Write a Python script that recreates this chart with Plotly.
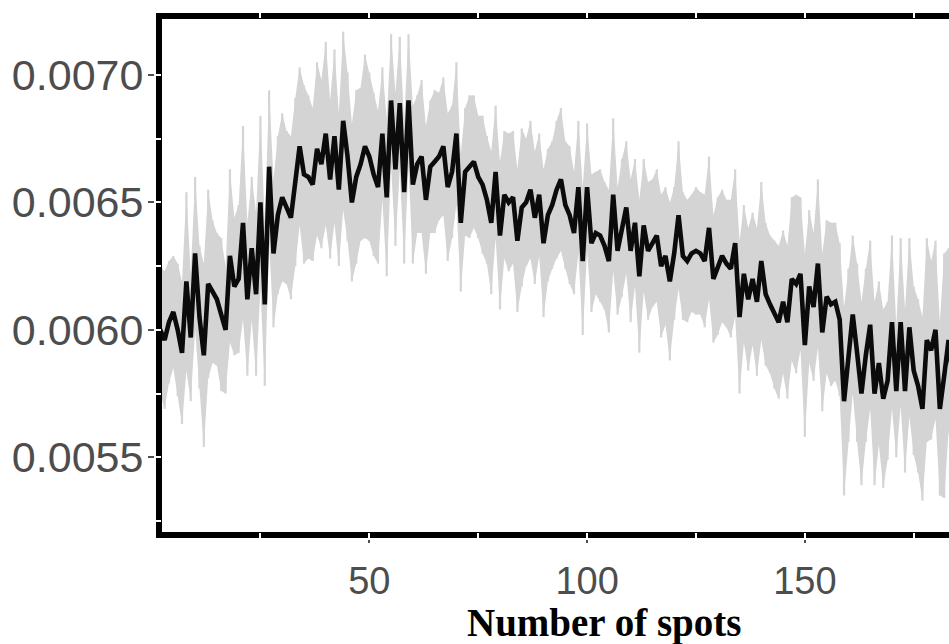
import plotly.graph_objects as go

# number of spots on the x axis
spots = list(range(1, 186))

# mean value per number of spots
mean_value = [
    0.00598, 0.00600, 0.00596, 0.00603, 0.00607, 0.00600, 0.00591, 0.00619, 0.00597, 0.00630,
    0.00605, 0.00590, 0.00618, 0.00615, 0.00612, 0.00606, 0.00600, 0.00629, 0.00617, 0.00620,
    0.00642, 0.00612, 0.00632, 0.00614, 0.00650, 0.00610, 0.00664, 0.00630, 0.00645, 0.00652,
    0.00648, 0.00644, 0.00658, 0.00672, 0.00661, 0.00660, 0.00657, 0.00671, 0.00665, 0.00677,
    0.00659, 0.00676, 0.00655, 0.00682, 0.00668, 0.00650, 0.00660, 0.00665, 0.00672, 0.00668,
    0.00661, 0.00656, 0.00677, 0.00652, 0.00690, 0.00663, 0.00689, 0.00654, 0.00690, 0.00657,
    0.00665, 0.00668, 0.00651, 0.00664, 0.00666, 0.00668, 0.00672, 0.00656, 0.00662, 0.00677,
    0.00642, 0.00662, 0.00664, 0.00666, 0.00660, 0.00657, 0.00651, 0.00642, 0.00662, 0.00637,
    0.00653, 0.00650, 0.00652, 0.00635, 0.00648, 0.00650, 0.00655, 0.00644, 0.00653, 0.00634,
    0.00645, 0.00649, 0.00655, 0.00659, 0.00649, 0.00645, 0.00638, 0.00656, 0.00627, 0.00656,
    0.00634, 0.00638, 0.00637, 0.00633, 0.00627, 0.00653, 0.00631, 0.00640, 0.00648, 0.00631,
    0.00642, 0.00621, 0.00641, 0.00631, 0.00634, 0.00637, 0.00625, 0.00629, 0.00619, 0.00630,
    0.00645, 0.00629, 0.00627, 0.00630, 0.00631, 0.00630, 0.00627, 0.00640, 0.00620, 0.00625,
    0.00629, 0.00626, 0.00624, 0.00634, 0.00605, 0.00622, 0.00612, 0.00620, 0.00611, 0.00627,
    0.00614, 0.00610, 0.00606, 0.00603, 0.00611, 0.00603, 0.00620, 0.00618, 0.00622, 0.00594,
    0.00617, 0.00609, 0.00626, 0.00599, 0.00613, 0.00610, 0.00611, 0.00604, 0.00572, 0.00590,
    0.00606, 0.00591, 0.00575, 0.00590, 0.00602, 0.00575, 0.00587, 0.00573, 0.00580, 0.00603,
    0.00576, 0.00603, 0.00576, 0.00601, 0.00584, 0.00578, 0.00569, 0.00596, 0.00592, 0.00600,
    0.00569, 0.00582, 0.00596, 0.00580, 0.00585,
]

# standard deviation per number of spots
spread = [
    0.00026, 0.00025, 0.00027, 0.00024, 0.00022, 0.00026, 0.00028, 0.00035, 0.00025, 0.00030,
    0.00028, 0.00036, 0.00037, 0.00028, 0.00026, 0.00030, 0.00025, 0.00034, 0.00027, 0.00029,
    0.00038, 0.00030, 0.00028, 0.00032, 0.00034, 0.00032, 0.00030, 0.00029, 0.00031, 0.00033,
    0.00030, 0.00032, 0.00033, 0.00031, 0.00035, 0.00032, 0.00030, 0.00034, 0.00033, 0.00036,
    0.00031, 0.00034, 0.00030, 0.00035, 0.00033, 0.00031, 0.00034, 0.00030, 0.00036, 0.00033,
    0.00032, 0.00030, 0.00026, 0.00031, 0.00026, 0.00030, 0.00026, 0.00028, 0.00026, 0.00031,
    0.00027, 0.00030, 0.00029, 0.00026, 0.00028, 0.00025, 0.00027, 0.00029, 0.00026, 0.00028,
    0.00027, 0.00025, 0.00028, 0.00026, 0.00024, 0.00027, 0.00025, 0.00028, 0.00026, 0.00029,
    0.00025, 0.00027, 0.00026, 0.00028, 0.00031, 0.00025, 0.00027, 0.00026, 0.00024, 0.00029,
    0.00026, 0.00025, 0.00027, 0.00028, 0.00025, 0.00027, 0.00024, 0.00026, 0.00029, 0.00025,
    0.00027, 0.00024, 0.00026, 0.00025, 0.00028, 0.00030, 0.00025, 0.00027, 0.00026, 0.00028,
    0.00025, 0.00030, 0.00026, 0.00027, 0.00025, 0.00026, 0.00028, 0.00027, 0.00031, 0.00026,
    0.00029, 0.00025, 0.00024, 0.00023, 0.00025, 0.00024, 0.00026, 0.00028, 0.00025, 0.00027,
    0.00026, 0.00025, 0.00027, 0.00029, 0.00030, 0.00027, 0.00028, 0.00026, 0.00029, 0.00031,
    0.00028, 0.00027, 0.00029, 0.00030, 0.00028, 0.00030, 0.00032, 0.00035, 0.00030, 0.00036,
    0.00030, 0.00029, 0.00033, 0.00031, 0.00030, 0.00032, 0.00031, 0.00030, 0.00037, 0.00034,
    0.00031, 0.00035, 0.00036, 0.00034, 0.00033, 0.00036, 0.00032, 0.00035, 0.00031, 0.00034,
    0.00026, 0.00033, 0.00032, 0.00035, 0.00033, 0.00034, 0.00036, 0.00040, 0.00035, 0.00035,
    0.00034, 0.00048, 0.00036, 0.00033, 0.00035,
]

x_ticks = [50, 100, 150]
y_ticks = [0.0055, 0.0060, 0.0065, 0.0070]
x_minor = [25, 50, 75, 100, 125, 150, 175]
y_minor = [0.00525, 0.0055, 0.00575, 0.0060, 0.00625, 0.0065, 0.00675, 0.0070]

x_range = [2.4, 183.1]
y_range = [0.0052068, 0.0072197]

upper = [m + s for m, s in zip(mean_value, spread)]
lower = [m - s for m, s in zip(mean_value, spread)]

band = "#d4d4d4"

fig = go.Figure()

# shaded band: mean +/- sd
fig.add_trace(go.Scatter(
    x=spots, y=upper, mode="lines", line=dict(width=0, color=band),
    hoverinfo="skip", showlegend=False,
))
fig.add_trace(go.Scatter(
    x=spots, y=lower, mode="lines", line=dict(width=0, color=band),
    fill="tonexty", fillcolor=band, hoverinfo="skip", showlegend=False,
))
# thin error bars on top of the band
fig.add_trace(go.Scatter(
    x=spots, y=mean_value, mode="markers", marker=dict(size=1, opacity=0),
    error_y=dict(type="data", array=spread, visible=True, color=band,
                 thickness=2.2, width=0),
    hoverinfo="skip", showlegend=False,
))
# mean curve
fig.add_trace(go.Scatter(
    x=spots, y=mean_value, mode="lines",
    line=dict(color="#0b0b0b", width=4.6), showlegend=False,
))
# empty traces so the notch axes get their own overlay subplots
fig.add_trace(go.Scatter(x=[], y=[], xaxis="x2", yaxis="y",
                         showlegend=False, hoverinfo="skip"))
fig.add_trace(go.Scatter(x=[], y=[], xaxis="x", yaxis="y2",
                         showlegend=False, hoverinfo="skip"))

tick_font = dict(family="Liberation Sans, Arial, sans-serif", color="#4d4d4d")

fig.update_layout(
    width=949, height=644,
    margin=dict(l=162, r=0, t=19, b=112, pad=0),
    paper_bgcolor="white", plot_bgcolor="white",
    showlegend=False,
    xaxis=dict(
        range=x_range, tickmode="array", tickvals=x_ticks,
        ticktext=[str(v) for v in x_ticks],
        showline=True, linewidth=6, linecolor="black", mirror=True,
        ticks="outside", ticklen=5, tickwidth=1.5, tickcolor="#4d4d4d",
        tickfont=dict(size=38, **tick_font), ticklabelstandoff=5,
        showgrid=False, zeroline=False,
    ),
    yaxis=dict(
        range=y_range, tickmode="array", tickvals=y_ticks,
        ticktext=[f"{v:.4f}" for v in y_ticks],
        showline=True, linewidth=6, linecolor="black", mirror=False,
        ticks="outside", ticklen=8, tickwidth=1.5, tickcolor="#4d4d4d",
        tickfont=dict(size=43, **tick_font), ticklabelstandoff=-4,
        showgrid=False, zeroline=False,
    ),
    # white notches cut through the frame at every break
    xaxis2=dict(
        overlaying="x", anchor="y", side="bottom", range=x_range,
        tickmode="array", tickvals=x_minor, showticklabels=False,
        ticks="outside", ticklen=7, tickwidth=2, tickcolor="white",
        mirror="ticks", showline=False, showgrid=False, zeroline=False,
    ),
    yaxis2=dict(
        overlaying="y", anchor="x", side="left", range=y_range,
        tickmode="array", tickvals=y_minor, showticklabels=False,
        ticks="outside", ticklen=7, tickwidth=2, tickcolor="white",
        mirror=False, showline=False, showgrid=False, zeroline=False,
    ),
    annotations=[dict(
        text="Number of spots", xref="paper", yref="paper",
        x=0.5616, y=-0.177, xanchor="center", yanchor="middle",
        showarrow=False,
        font=dict(family="Liberation Serif, Times New Roman, serif",
                  size=39, color="black", weight="bold"),
    )],
)

fig.write_html("out.html")
